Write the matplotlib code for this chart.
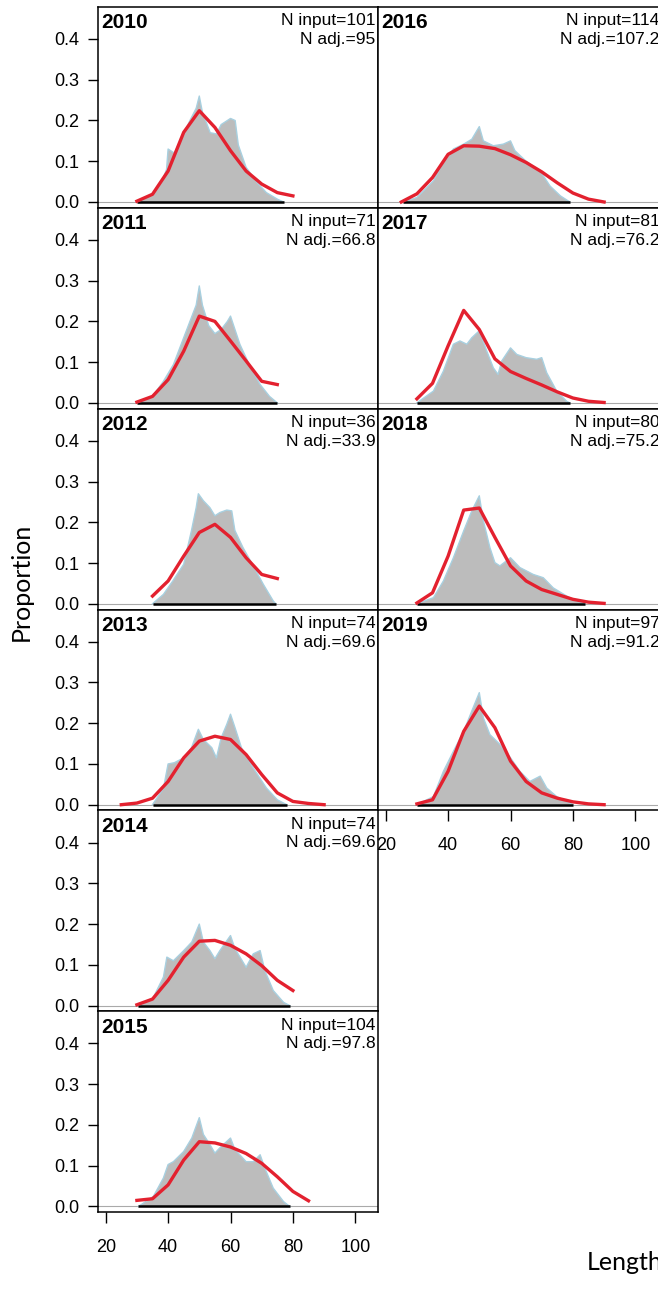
import matplotlib
matplotlib.use("Agg")
import matplotlib.pyplot as plt
import numpy as np

plt.rcParams['font.family'] = ['Liberation Sans', 'DejaVu Sans']

# panel layout: left column 2010-2015, right column 2016-2019
years_left = [2010, 2011, 2012, 2013, 2014, 2015]
years_right = [2016, 2017, 2018, 2019]

n_input = {2010: "101", 2011: "71", 2012: "36", 2013: "74", 2014: "74",
           2015: "104", 2016: "114", 2017: "81", 2018: "80", 2019: "97"}
n_adj = {2010: "95", 2011: "66.8", 2012: "33.9", 2013: "69.6", 2014: "69.6",
         2015: "97.8", 2016: "107.2", 2017: "76.2", 2018: "75.2", 2019: "91.2"}

obs_len = {
    2010: [30, 35, 38.5, 39.5, 40, 42, 45, 47, 49, 50, 51, 53.5, 55.5, 57, 60, 61.5, 62.5, 65, 68.5, 71.5, 75, 77],
    2011: [30, 35, 38.5, 41.7, 45, 47.5, 49, 50, 51, 53, 55, 57, 59, 60, 61, 63, 66, 69.5, 72.5, 75],
    2012: [35, 38.5, 41.5, 45, 47.5, 49, 49.7, 51.3, 53.4, 55, 56.6, 58.8, 60.4, 61.4, 64, 67.3, 70.5, 73.7, 74.5],
    2013: [35, 38.5, 40, 42, 45, 47.5, 49.7, 51.3, 54, 55.5, 57, 58.8, 60, 61.4, 63.5, 67.3, 71.5, 75, 78],
    2014: [30.5, 35, 38.5, 39.6, 41.7, 45, 47.6, 50, 51.3, 53.4, 55, 56.6, 60, 61.4, 65, 67.3, 69.5, 71, 73.7, 77, 79],
    2015: [30.5, 35.3, 38.5, 40, 41.7, 45, 47.6, 50, 51.3, 53.4, 55, 56.6, 60, 61.4, 65, 67.3, 69.5, 71, 73.7, 77, 79],
    2016: [25.5, 30, 35.3, 38.5, 41.7, 45, 47.6, 50, 51.3, 54.5, 57.7, 60, 61.4, 65, 69.5, 72.7, 76, 79],
    2017: [30, 35.3, 38.5, 41.7, 43.8, 46, 47.6, 50, 52.4, 54.5, 56, 57.2, 60, 62, 65, 68.4, 70, 71.6, 74.8, 78, 79],
    2018: [30, 35.3, 38.5, 41.7, 45, 47.6, 50, 51.3, 53.4, 55, 56.6, 60, 63, 67.3, 70.5, 73.7, 78, 81, 84],
    2019: [30, 35.3, 38.5, 41.7, 45, 47.6, 50, 51.3, 53.4, 56.6, 60, 63, 66.2, 69.5, 71.6, 74.8, 78, 80],
}
obs_prop = {
    2010: [0, 0.02, 0.06, 0.08, 0.13, 0.12, 0.167, 0.2, 0.23, 0.26, 0.22, 0.17, 0.167, 0.19, 0.205, 0.2, 0.14, 0.085, 0.048, 0.023, 0.007, 0],
    2011: [0, 0.016, 0.053, 0.094, 0.16, 0.21, 0.24, 0.287, 0.24, 0.19, 0.17, 0.18, 0.2, 0.213, 0.19, 0.144, 0.094, 0.045, 0.016, 0],
    2012: [0, 0.023, 0.056, 0.097, 0.18, 0.236, 0.27, 0.253, 0.236, 0.216, 0.224, 0.23, 0.228, 0.18, 0.138, 0.093, 0.048, 0.007, 0],
    2013: [0, 0.04, 0.1, 0.103, 0.115, 0.14, 0.185, 0.16, 0.14, 0.115, 0.164, 0.197, 0.222, 0.19, 0.14, 0.09, 0.041, 0.012, 0],
    2014: [0, 0.016, 0.07, 0.119, 0.11, 0.135, 0.156, 0.2, 0.156, 0.135, 0.115, 0.135, 0.172, 0.14, 0.094, 0.127, 0.135, 0.086, 0.037, 0.008, 0],
    2015: [0, 0.025, 0.07, 0.103, 0.11, 0.135, 0.168, 0.218, 0.177, 0.152, 0.131, 0.144, 0.168, 0.14, 0.11, 0.11, 0.127, 0.094, 0.045, 0.012, 0],
    2016: [0, 0.011, 0.052, 0.097, 0.13, 0.142, 0.154, 0.185, 0.15, 0.138, 0.142, 0.15, 0.126, 0.1, 0.076, 0.039, 0.015, 0],
    2017: [0, 0.029, 0.078, 0.144, 0.152, 0.144, 0.16, 0.177, 0.127, 0.086, 0.07, 0.103, 0.135, 0.119, 0.111, 0.107, 0.111, 0.074, 0.029, 0.004, 0],
    2018: [0, 0.015, 0.056, 0.113, 0.179, 0.228, 0.265, 0.204, 0.138, 0.101, 0.093, 0.113, 0.089, 0.072, 0.064, 0.039, 0.019, 0.007, 0],
    2019: [0, 0.02, 0.082, 0.131, 0.18, 0.23, 0.275, 0.213, 0.172, 0.148, 0.115, 0.082, 0.057, 0.07, 0.041, 0.02, 0.008, 0],
}

# expected composition, 5 cm bins
exp_start = {2010: 30, 2011: 30, 2012: 35, 2013: 25, 2014: 30,
             2015: 30, 2016: 25, 2017: 30, 2018: 30, 2019: 30}
exp_prop = {
    2010: [0.002, 0.019, 0.076, 0.171, 0.224, 0.183, 0.126, 0.076, 0.044, 0.023, 0.015],
    2011: [0.002, 0.016, 0.057, 0.127, 0.213, 0.2, 0.152, 0.103, 0.053, 0.045],
    2012: [0.019, 0.056, 0.117, 0.175, 0.195, 0.163, 0.113, 0.072, 0.062],
    2013: [0.0, 0.004, 0.016, 0.057, 0.115, 0.156, 0.168, 0.16, 0.123, 0.074, 0.029, 0.008, 0.003, 0.0],
    2014: [0.002, 0.016, 0.062, 0.119, 0.158, 0.16, 0.148, 0.127, 0.098, 0.062, 0.037],
    2015: [0.015, 0.019, 0.053, 0.114, 0.159, 0.156, 0.146, 0.13, 0.106, 0.073, 0.037, 0.014],
    2016: [0.0, 0.02, 0.06, 0.117, 0.138, 0.137, 0.131, 0.116, 0.097, 0.074, 0.047, 0.022, 0.007, 0.0],
    2017: [0.01, 0.048, 0.14, 0.227, 0.18, 0.108, 0.077, 0.06, 0.044, 0.027, 0.012, 0.004, 0.001],
    2018: [0.002, 0.027, 0.117, 0.23, 0.235, 0.163, 0.093, 0.056, 0.035, 0.023, 0.011, 0.004, 0.001],
    2019: [0.002, 0.012, 0.082, 0.18, 0.242, 0.189, 0.107, 0.057, 0.029, 0.016, 0.007, 0.002, 0.0],
}

xticks = [20, 40, 60, 80, 100]
yticks = [0.0, 0.1, 0.2, 0.3, 0.4]

W, H = 658, 1305
fig = plt.figure(figsize=(W / 100, H / 100), dpi=100)

px_per_unit = 3.12
row_h = 200.9


def panel(year, col, row, xaxis):
    x0 = 97.7 + 280 * col
    w = 280 if col == 0 else 284
    top = 6.8 + row_h * row
    ax = fig.add_axes([x0 / W, 1 - (top + row_h) / H, w / W, row_h / H])
    xmin = 20 - 8 / px_per_unit
    ax.set_xlim(xmin, xmin + w / px_per_unit)
    ax.set_ylim(-0.014, 0.479)

    L = obs_len[year]
    p = obs_prop[year]
    ax.axhline(0, color="#aaaaaa", lw=0.8, zorder=1)
    ax.fill(L, p, facecolor="#bcbcbc", edgecolor="none", zorder=2)
    ax.plot(L, p, color="#a8d0e0", lw=1.0, zorder=2.5)
    ax.plot([L[0], L[-1]], [0, 0], color="black", lw=1.8, zorder=3, solid_capstyle="butt")

    e = exp_prop[year]
    eL = exp_start[year] + 5 * np.arange(len(e))
    ax.plot(eL, e, color="#e3212f", lw=2.4, zorder=4)

    for s in ax.spines.values():
        s.set_linewidth(1.1)

    if col == 0:
        ax.set_yticks(yticks)
        ax.set_yticklabels(["%.1f" % v for v in yticks])
        ax.tick_params(axis="y", direction="out", length=7.5, width=1.0, pad=6, labelsize=13)
    else:
        ax.set_yticks([])
    if xaxis:
        ax.set_xticks(xticks)
        ax.tick_params(axis="x", direction="out", length=8, width=1.0, pad=11, labelsize=13)
    else:
        ax.set_xticks([])

    ax.annotate(str(year), xy=(0, 1), xycoords="axes fraction", xytext=(4, -16),
                textcoords="offset pixels", ha="left", va="center",
                fontsize=15, fontweight="bold")
    ax.annotate("N input=" + n_input[year], xy=(1, 1), xycoords="axes fraction",
                xytext=(-2, -14), textcoords="offset pixels", ha="right", va="center",
                fontsize=12.5)
    ax.annotate("N adj.=" + n_adj[year], xy=(1, 1), xycoords="axes fraction",
                xytext=(-2, -32.5), textcoords="offset pixels", ha="right", va="center",
                fontsize=12.5)
    return ax


for i, yr in enumerate(years_left):
    panel(yr, 0, i, i == len(years_left) - 1)
for i, yr in enumerate(years_right):
    panel(yr, 1, i, i == len(years_right) - 1)

fig.text(21 / W, 1 - 582 / H, "Proportion", rotation=90, ha="center", va="center",
         fontsize=18, family=["Lato", "DejaVu Sans"])
fig.text(587 / W, 1 - 1263 / H, "Length", ha="left", va="center",
         fontsize=18, family=["Lato", "DejaVu Sans"])

fig.savefig("out.png", dpi=100)
